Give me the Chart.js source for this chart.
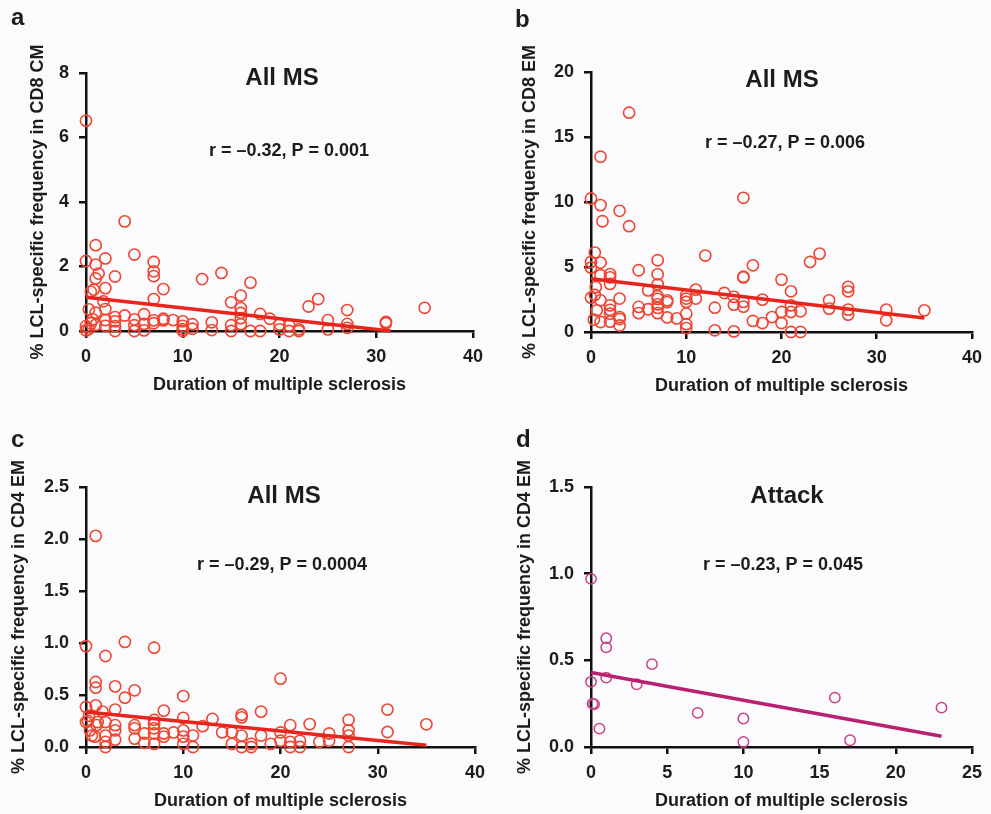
<!DOCTYPE html>
<html>
<head>
<meta charset="utf-8">
<script src="https://cdn.jsdelivr.net/npm/chart.js@4.4.0/dist/chart.umd.min.js"></script>
<style>
  html, body { margin: 0; padding: 0; background: #fbfbfd; }
  #wrap { position: relative; width: 991px; height: 814px; }
  canvas { position: absolute; }
</style>
</head>
<body>
<div id="wrap">
  <canvas id="pa" style="left:0;top:0"></canvas>
  <canvas id="pb" style="left:495px;top:0"></canvas>
  <canvas id="pc" style="left:0;top:407px"></canvas>
  <canvas id="pd" style="left:495px;top:407px"></canvas>
</div>
<script>
// panel a - CD8 CM, all MS
const durA = [0, 4, 1, 0, 1, 2, 5, 7, 7, 7, 3, 1.3, 1, 2, 0.5, 0.8, 8, 12, 14, 17, 7, 16, 15, 16, 16, 16, 16,
  24, 23, 27, 27, 27, 31, 31, 35, 25, 25, 18, 19, 20, 20, 21, 21, 22, 22, 18, 17, 15, 15, 13, 13, 11, 11,
  10, 10, 10, 10, 9, 8, 8, 7, 7, 6, 6, 6, 5, 5, 5, 4, 3, 3, 3, 3, 2, 1.8, 2, 2, 1, 0.7, 0.3, 0.5, 1, 0, 0, 0.3];
const freqA = [6.52, 3.40, 2.66, 2.17, 2.06, 2.25, 2.37, 2.14, 1.85, 1.70, 1.69, 1.78, 1.63, 1.33, 1.22, 1.28, 1.30, 1.61, 1.80, 1.50, 0.99, 1.10, 0.89, 0.71, 0.56, 0.40, 0.21,
  0.99, 0.76, 0.65, 0.22, 0.10, 0.28, 0.24, 0.72, 0.34, 0.05, 0.53, 0.38, 0.20, 0.05, 0.17, 0.0, 0.05, 0.0, 0.0, 0.0, 0.18, 0.0, 0.27, 0.03, 0.21, 0.07,
  0.30, 0.16, 0.06, 0.0, 0.34, 0.38, 0.33, 0.33, 0.24, 0.52, 0.22, 0.02, 0.36, 0.18, 0.0, 0.48, 0.43, 0.30, 0.15, 0.0, 0.68, 0.92, 0.34, 0.16, 0.57, 0.36, 0.67, 0.24, 0.19, 0.15, 0.02, 0.06];
const fitAx = [0, 31.5];
const fitAy = [1.05, 0];

// panel b - CD8 EM, all MS
const durB = [4, 1, 0, 1, 1.2, 3, 4, 16, 12, 24, 23, 17, 7, 5, 0.4, 0, 0, 1, 2, 2, 2, 1, 7, 7, 16, 16, 20, 21, 27, 27,
  11, 14, 6, 0.5, 0.4, 0, 3, 7, 7, 8, 8, 10, 10, 10, 11, 15, 15, 16, 16, 18, 25, 25, 21, 21, 22, 20, 20, 19, 18, 17,
  13, 10, 10, 10, 9, 8, 7, 7, 7, 6, 5, 5, 2, 2, 2, 2, 3, 3, 3, 1, 0.6, 0.3, 1, 13, 15, 21, 22, 27, 27, 31, 31, 35];
const freqB = [16.87, 13.48, 10.27, 9.76, 8.52, 9.32, 8.14, 10.32, 5.88, 6.03, 5.39, 5.13, 5.52, 4.75, 6.11, 5.39, 4.95, 5.34, 4.45, 4.2, 3.7, 4.37, 4.44, 3.67, 4.25, 4.2, 4.03, 3.13, 3.47, 3.13,
  3.26, 3.0, 3.2, 3.45, 2.85, 2.64, 2.57, 2.75, 2.55, 2.44, 2.3, 2.82, 2.57, 2.31, 2.57, 2.70, 2.1, 2.31, 1.95, 2.49, 2.44, 1.8, 2.05, 1.54, 1.59, 1.54, 0.69, 1.15, 0.69, 0.85,
  1.87, 1.41, 0.6, 0.3, 1.05, 1.12, 2.13, 1.85, 1.45, 1.75, 1.93, 1.45, 2.05, 1.7, 1.41, 0.8, 1.15, 1.0, 0.5, 2.44, 1.67, 0.95, 0.77, 0.13, 0.05, 0.0, 0.0, 1.72, 1.33, 1.72, 0.9, 1.67];
const fitBx = [0, 35];
const fitBy = [4.1, 1.08];

// panel c - CD4 EM, all MS
const durC = [1, 0, 4, 7, 2, 20, 1, 1, 3, 5, 4, 10, 0, 1, 3, 8, 31, 31, 35, 18, 16, 16, 13, 10, 7, 7, 7, 7, 23, 21,
  27, 27, 27, 27, 25, 25, 24, 22, 22, 21, 21, 20, 20, 19, 18, 17, 17, 16, 16, 15, 15, 14, 12, 11, 11, 10, 10, 10,
  9, 8, 8, 6, 6, 5, 5, 5, 3, 3, 3, 2, 2, 2, 2, 0, 0.2, 1.1, 1.2, 0.4, 0.6, 0.9, 1.7, 7, 0.3];
const freqC = [2.03, 0.97, 1.01, 0.955, 0.875, 0.657, 0.625, 0.57, 0.583, 0.545, 0.474, 0.49, 0.385, 0.40, 0.36, 0.35, 0.36, 0.144, 0.218, 0.34, 0.31, 0.285, 0.27, 0.28, 0.26, 0.22, 0.18, 0.13, 0.22, 0.21,
  0.26, 0.16, 0.11, 0.0, 0.13, 0.06, 0.05, 0.06, 0.0, 0.05, 0.0, 0.14, 0.06, 0.03, 0.11, 0.03, 0.0, 0.11, 0.0, 0.14, 0.03, 0.14, 0.2, 0.11, 0.0, 0.16, 0.10, 0.03,
  0.14, 0.13, 0.10, 0.13, 0.04, 0.21, 0.18, 0.08, 0.21, 0.16, 0.07, 0.24, 0.11, 0.05, 0.0, 0.24, 0.25, 0.21, 0.24, 0.16, 0.11, 0.10, 0.34, 0.03, 0.3];
const fitCx = [0, 35];
const fitCy = [0.337, 0.016];

// panel d - CD4 EM, attack
const durD = [0, 1, 1, 4, 1, 0, 3, 0.1, 0.2, 0.55, 7, 10, 10, 16, 17, 23];
const freqD = [0.97, 0.627, 0.575, 0.478, 0.40, 0.376, 0.362, 0.25, 0.247, 0.106, 0.197, 0.164, 0.029, 0.285, 0.039, 0.227];
const fitDx = [0, 23];
const fitDy = [0.43, 0.062];

const xTicksABC = [0, 10, 20, 30, 40];
const xTicksD = [0, 5, 10, 15, 20, 25];

const FONT = '"Liberation Sans", Arial, sans-serif';
const INK = '#1c1c1c';

const pts = (xs, ys) => xs.map((x, i) => ({ x: x, y: ys[i] }));

const panelText = {
  id: 'panelText',
  afterDraw(chart, args, o) {
    const ctx = chart.ctx;
    ctx.save();
    ctx.fillStyle = INK;
    ctx.textAlign = 'left';
    ctx.font = 'bold 24px ' + FONT;
    ctx.fillText(o.letter, o.letterX, o.letterY);
    ctx.textAlign = 'center';
    ctx.fillText(o.title, o.titleX, o.titleY);
    ctx.font = 'bold 18px ' + FONT;
    ctx.fillText(o.stat, o.statX, o.statY);
    ctx.restore();
  }
};

function makePanel(id, cfg) {
  const el = document.getElementById(id);
  el.width = 495;
  el.height = 407;
  const axisLine = { display: true, color: '#111', width: 2.5 };
  const tickGrid = { display: true, drawOnChartArea: false, drawTicks: true, tickLength: 7, color: '#111', lineWidth: 2.5 };
  return new Chart(el, {
    type: 'scatter',
    data: {
      datasets: [
        {
          data: pts(cfg.xs, cfg.ys),
          pointStyle: 'circle',
          pointRadius: cfg.r,
          pointBorderWidth: cfg.bw,
          borderColor: cfg.dot,
          backgroundColor: 'rgba(0,0,0,0)',
          clip: false,
          order: 2
        },
        {
          type: 'line',
          data: pts(cfg.fx, cfg.fy),
          borderColor: cfg.line,
          borderWidth: 3.5,
          pointRadius: 0,
          fill: false,
          clip: false,
          order: 1
        }
      ]
    },
    options: {
      responsive: false,
      animation: false,
      events: [],
      layout: { padding: cfg.pad },
      plugins: {
        legend: { display: false },
        tooltip: { enabled: false },
        panelText: cfg.text
      },
      scales: {
        x: {
          type: 'linear',
          min: cfg.xt[0],
          max: cfg.xt[cfg.xt.length - 1],
          afterBuildTicks: (s) => { s.ticks = cfg.xt.map(v => ({ value: v })); },
          afterFit: (s) => { s.height = cfg.xh; },
          border: axisLine,
          grid: tickGrid,
          ticks: { color: INK, padding: 8, maxRotation: 0, font: { family: FONT, weight: 'bold', size: 18 } },
          title: {
            display: true,
            text: 'Duration of multiple sclerosis',
            color: INK,
            padding: { top: 0, bottom: cfg.xtp },
            font: { family: FONT, weight: 'bold', size: 18 }
          }
        },
        y: {
          type: 'linear',
          min: cfg.yt[0],
          max: cfg.yt[cfg.yt.length - 1],
          afterBuildTicks: (s) => { s.ticks = cfg.yt.map(v => ({ value: v })); },
          afterFit: (s) => { s.width = cfg.yw; },
          border: axisLine,
          grid: tickGrid,
          ticks: {
            color: INK,
            padding: 10,
            font: { family: FONT, weight: 'bold', size: 18 },
            callback: (v) => cfg.dec ? Number(v).toFixed(1) : String(v)
          },
          title: {
            display: true,
            text: cfg.ytitle,
            color: INK,
            padding: { top: cfg.ytp, bottom: 0 },
            font: { family: FONT, weight: 'bold', size: 18 }
          }
        }
      }
    },
    plugins: [panelText]
  });
}

const RED_DOT = '#ef4632';
const RED_LINE = '#e8241c';

makePanel('pa', {
  xs: durA, ys: freqA, fx: fitAx, fy: fitAy,
  dot: RED_DOT, line: RED_LINE, r: 5.6, bw: 1.6,
  xt: xTicksABC, yt: [0, 2, 4, 6, 8], dec: false,
  pad: { left: 0, top: 73, right: 22, bottom: 0 }, yw: 86, xh: 76, xtp: 11, ytp: 27,
  ytitle: '% LCL-specific frequency in CD8 CM',
  text: { letter: 'a', letterX: 11, letterY: 25, title: 'All MS', titleX: 282, titleY: 85, stat: 'r = \u20130.32, P = 0.001', statX: 289, statY: 156 }
});

makePanel('pb', {
  xs: durB, ys: freqB, fx: fitBx, fy: fitBy,
  dot: RED_DOT, line: RED_LINE, r: 5.6, bw: 1.6,
  xt: xTicksABC, yt: [0, 5, 10, 15, 20], dec: false,
  pad: { left: 0, top: 72, right: 11, bottom: 0 }, yw: 96, xh: 75, xtp: 10, ytp: 24,
  ytitle: '% LCL-specific frequency in CD8 EM',
  text: { letter: 'b', letterX: 20, letterY: 27, title: 'All MS', titleX: 287, titleY: 87, stat: 'r = \u20130.27, P = 0.006', statX: 290, statY: 148 }
});

makePanel('pc', {
  xs: durC, ys: freqC, fx: fitCx, fy: fitCy,
  dot: RED_DOT, line: RED_LINE, r: 5.6, bw: 1.6,
  xt: xTicksABC, yt: [0, 0.5, 1, 1.5, 2, 2.5], dec: true,
  pad: { left: 0, top: 80, right: 20, bottom: 0 }, yw: 86, xh: 67, xtp: 2, ytp: 8,
  ytitle: '% LCL-specific frequency in CD4 EM',
  text: { letter: 'c', letterX: 11, letterY: 40, title: 'All MS', titleX: 284, titleY: 96, stat: 'r = \u20130.29, P = 0.0004', statX: 282, statY: 163 }
});

makePanel('pd', {
  xs: durD, ys: freqD, fx: fitDx, fy: fitDy,
  dot: '#c8428a', line: '#b8216f', r: 5.2, bw: 1.5,
  xt: xTicksD, yt: [0, 0.5, 1, 1.5], dec: true,
  pad: { left: 0, top: 80, right: 12, bottom: 0 }, yw: 96, xh: 67, xtp: 2, ytp: 19,
  ytitle: '% LCL-specific frequency in CD4 EM',
  text: { letter: 'd', letterX: 21, letterY: 40, title: 'Attack', titleX: 292, titleY: 96, stat: 'r = \u20130.23, P = 0.045', statX: 288, statY: 163 }
});
</script>
</body>
</html>
